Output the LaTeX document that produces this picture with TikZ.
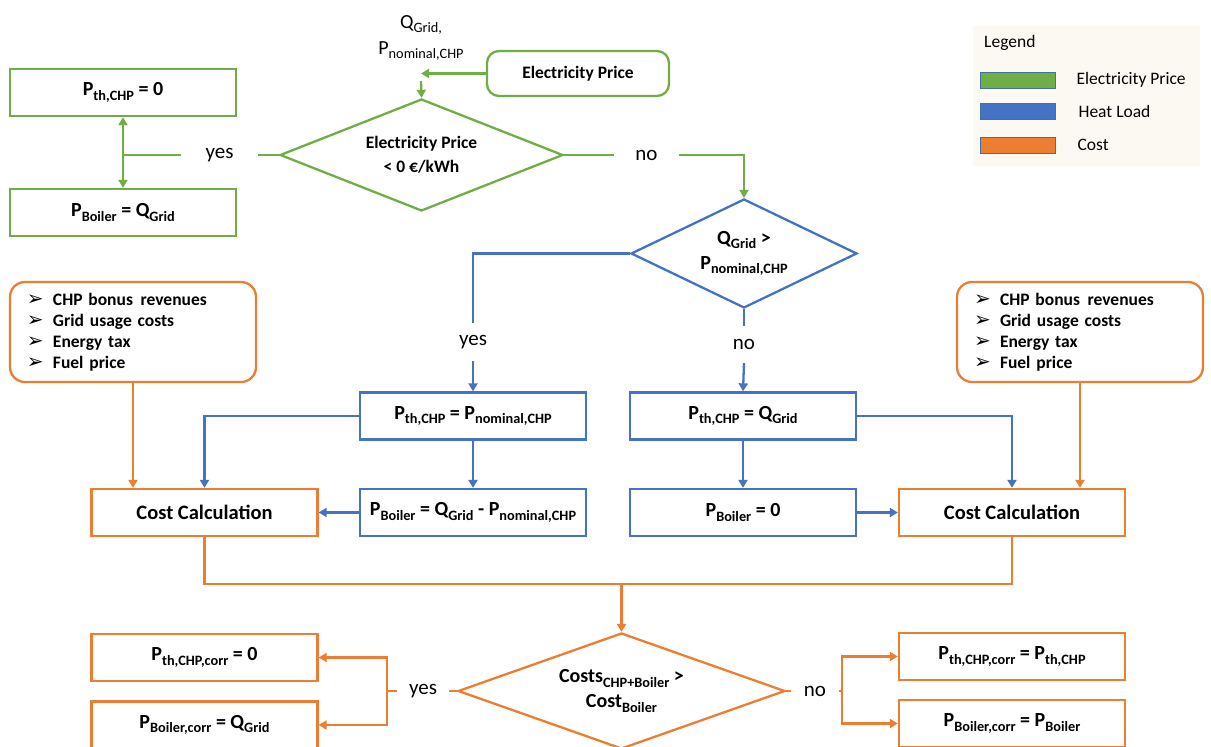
\documentclass[tikz,border=0pt]{standalone}
\usepackage{fontspec}
\setmainfont{Carlito}
\newfontfamily\symfont{DejaVu Sans}
\usetikzlibrary{arrows.meta, positioning, shapes.geometric}
\definecolor{el_green}{HTML}{70AD47}
\definecolor{heat_blue}{HTML}{4472C4}
\definecolor{cost_orange}{HTML}{ED7D31}
\definecolor{leg_bg}{HTML}{FCF9F2}
\definecolor{leg_edge}{HTML}{41719C}
\newcommand{\lowsub}[1]{\raisebox{-0.45ex}{\scalebox{0.715}{#1}}}
\newcommand{\bul}{\makebox[26pt][l]{\symfont\fontsize{20}{20}\selectfont ➢}}
\tikzset {
  box/.style = {draw, line width=2.3pt, rectangle, fill=white, minimum width=226, minimum height=47, inner sep=0, font=\bfseries\fontsize{20}{24}\selectfont},
  bigtext/.style = {font=\bfseries\fontsize{20.5}{24}\selectfont},
  infobox/.style = {draw, line width=2.3pt, rectangle, rounded corners=15pt, minimum width=246, minimum height=100, text width=212, inner xsep=17, align=left, font=\bfseries\fontsize{17.5}{21}\selectfont},
  decision/.style = {draw, line width=2.3pt, diamond, inner sep=0, align=center, font=\bfseries\fontsize{20}{25}\selectfont},
  label/.style = {inner sep=0, minimum height=20, font=\fontsize{21}{24}\selectfont},
  swatch/.style = {draw=leg_edge, line width=0.8pt, minimum width=75, minimum height=16, inner sep=0},
  legtext/.style = {inner sep=0, anchor=west, font=\fontsize{17.5}{21}\selectfont},
  gline/.style = {->, line width=2.3pt, color=el_green, >={Triangle[length=8pt, width=9pt]}},
  bline/.style = {->, line width=2.3pt, color=heat_blue, >={Triangle[length=8pt, width=9pt]}},
  oline/.style = {->, line width=2.3pt, color=cost_orange, >={Triangle[length=8pt, width=9pt]}},
  gplain/.style = {line width=2.3pt, color=el_green},
  bplain/.style = {line width=2.3pt, color=heat_blue},
  oplain/.style = {line width=2.3pt, color=cost_orange}
}

\begin{document}
\begin{tikzpicture}[x=1pt, y=-1pt]
  \path[use as bounding box, clip] (0,0) rectangle (1211,747);

  % electricity price check
  \node[align=center, inner sep=0, font=\fontsize{20}{26}\selectfont] (qin) at (421,38) {Q\lowsub{Grid,}\\P\lowsub{nominal,CHP}};
  \node[box, draw=el_green, rounded corners=12pt, minimum width=182, minimum height=45, font=\bfseries\fontsize{17.5}{21}\selectfont] (elprice) at (578,73.5) {Electricity Price};
  \node[decision, draw=el_green, aspect=2.53, minimum width=283, minimum height=112, font=\bfseries\fontsize{17.5}{24}\selectfont] (dia1) at (421.5,155) {Electricity Price\\< 0 €/kWh};
  \node[box, draw=el_green] (pth0) at (123,92.5) {P\lowsub{th,CHP} = 0};
  \node[box, draw=el_green] (pboil0) at (123,212.5) {P\lowsub{Boiler} = Q\lowsub{Grid}};
  \node[label, minimum width=77] (yes1) at (219.5,155) {yes};
  \node[label, minimum width=65] (no1) at (646.5,155) {no};
  \coordinate (tip1) at (421,73.5);
  \coordinate (drop1) at (421,81);
  \coordinate (j1) at (123,155);

  \draw[gline] (elprice.west) -- (tip1);
  \draw[gline] (drop1) -- (dia1.north);
  \draw[gplain] (dia1.west) -- (yes1.east);
  \draw[gplain] (yes1.west) -- (j1);
  \draw[gline] (j1) -- (pth0.south);
  \draw[gline] (j1) -- (pboil0.north);
  \draw[gplain] (dia1.east) -- (no1.west);
  \node[decision, draw=heat_blue, aspect=2.07, minimum width=226, minimum height=109] (dia2) at (744,253.5) {Q\lowsub{Grid} >\\P\lowsub{nominal,CHP}};
  \draw[gline] (no1.east) -| (dia2.north);

  % heat load
  \node[label, minimum height=38] (yes2) at (473,342) {yes};
  \node[label, minimum height=37] (no2) at (744,344.5) {no};
  \node[box, draw=heat_blue] (pthnom) at (473,416) {P\lowsub{th,CHP} = P\lowsub{nominal,CHP}};
  \node[box, draw=heat_blue] (pthq) at (743,416) {P\lowsub{th,CHP} = Q\lowsub{Grid}};
  \node[box, draw=heat_blue] (pboilnom) at (473,512.5) {P\lowsub{Boiler} = Q\lowsub{Grid} - P\lowsub{nominal,CHP}};
  \node[box, draw=heat_blue] (pboilzero) at (743,512.5) {P\lowsub{Boiler} = 0};

  \draw[bplain] (dia2.west) -| (yes2.north);
  \draw[bline] (yes2.south) -- (pthnom.north);
  \draw[bplain] (dia2.south) -- (no2.north);
  \draw[bline] (no2.south) -- (pthq.north);

  % cost
  \node[box, draw=cost_orange, bigtext] (costL) at (204.5,512.5) {Cost Calculation};
  \node[box, draw=cost_orange, bigtext] (costR) at (1012,512.5) {Cost Calculation};
  \node[infobox, draw=cost_orange] (infoL) at (133,332) {\bul CHP bonus\hspace{0.1em} revenues\\\bul Grid usage costs\\\bul Energy tax\\\bul Fuel price};
  \node[infobox, draw=cost_orange] (infoR) at (1080,332) {\bul CHP bonus\hspace{0.1em} revenues\\\bul Grid usage costs\\\bul Energy tax\\\bul Fuel price};

  \draw[bline] (pthnom.west) -| (costL.north);
  \draw[bline] (pthnom) -- (pboilnom);
  \draw[bline] (pboilnom) -- (costL);
  \draw[bline] (pthq.east) -| (costR.north);
  \draw[bline] (pthq) -- (pboilzero);
  \draw[bline] (pboilzero) -- (costR);
  \draw[oline] (infoL.south) -- (infoL.south |- costL.north);
  \draw[oline] (infoR.south) -- (infoR.south |- costR.north);

  % comparison
  \coordinate (mrg) at (621.5,584);
  \node[decision, draw=cost_orange, aspect=2.82, minimum width=327, minimum height=116] (dia3) at (621.5,691) {Costs\lowsub{CHP+Boiler} >\\Cost\lowsub{Boiler}};
  \node[box, draw=cost_orange] (pthcorrL) at (204.5,657.5) {P\lowsub{th,CHP,corr} = 0};
  \node[box, draw=cost_orange] (pboilcorrL) at (204.5,725) {P\lowsub{Boiler,corr} = Q\lowsub{Grid}};
  \node[box, draw=cost_orange] (pthcorrR) at (1012,656.5) {P\lowsub{th,CHP,corr} = P\lowsub{th,CHP}};
  \node[box, draw=cost_orange] (pboilcorrR) at (1012,723.5) {P\lowsub{Boiler,corr} = P\lowsub{Boiler}};
  \node[label, minimum width=52] (yes3) at (423,691) {yes};
  \node[label, minimum width=48] (no3) at (815,691) {no};
  \coordinate (j3) at (387,691);
  \coordinate (j4) at (842,691);

  \draw[oplain] (costL.south) |- (mrg) -| (costR.south);
  \draw[oline] (mrg) -- (dia3.north);
  \draw[oplain] (dia3.west) -- (yes3.east);
  \draw[oplain] (yes3.west) -- (j3);
  \draw[oline] (j3) |- (pthcorrL.east);
  \draw[oline] (j3) |- (pboilcorrL.east);
  \draw[oplain] (dia3.east) -- (no3.west);
  \draw[oplain] (no3.east) -- (j4);
  \draw[oline] (j4) |- (pthcorrR.west);
  \draw[oline] (j4) |- (pboilcorrR.west);

  % legend
  \fill[leg_bg] (973,26) rectangle (1200,166);
  \node[legtext] (legtitle) at (984,43) {Legend};
  \node[swatch, fill=el_green] (swgreen) at (1017.5,80) {};
  \node[swatch, fill=heat_blue] (swblue) at (1017.5,111) {};
  \node[swatch, fill=cost_orange] (sworange) at (1017.5,145) {};
  \node[legtext, right=21pt of swgreen] {Electricity Price};
  \node[legtext, right=23pt of swblue] {Heat Load};
  \node[legtext, right=22pt of sworange] {Cost};
\end{tikzpicture}
\end{document}
